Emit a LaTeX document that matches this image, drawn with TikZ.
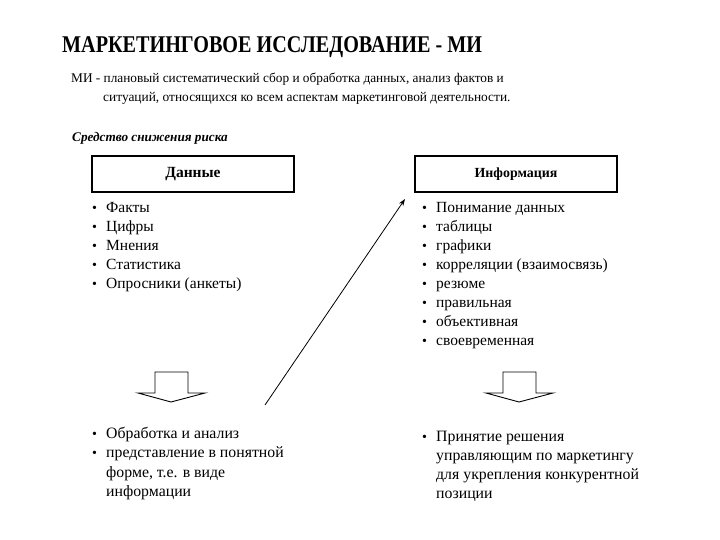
\documentclass[tikz,border=0pt]{standalone}
\usepackage{fontspec}
\usepackage{graphicx}
\setmainfont{Liberation Serif}
\usetikzlibrary{arrows.meta}
\begin{document}
\begin{tikzpicture}[x=1pt,y=-1pt,
  txt/.style={anchor=base west, inner sep=0pt, font=\fontsize{15.5}{17}\selectfont},
  btxt/.style={anchor=base west, inner sep=0pt, font=\fontsize{15.8}{17}\selectfont},
  deftxt/.style={anchor=base west, inner sep=0pt, font=\fontsize{13.3}{16}\selectfont},
  bul/.style={anchor=base west, inner sep=0pt, font=\fontsize{14}{16}\selectfont},
  labelbox/.style={draw, line width=1.2pt, minimum width=202pt, minimum height=36pt, inner sep=0pt},
  blockarrow/.style={draw, fill=white, line width=0.9pt},
  link/.style={line width=0.8pt, -{Stealth[length=7pt,width=5pt]}}
]
\useasboundingbox (0,0) rectangle (720,540);

% title and description
\node[anchor=base west, inner sep=0pt, font=\fontsize{24}{28}\selectfont\bfseries] (title) at (62,53) {\scalebox{0.84}[1]{МАРКЕТИНГОВОЕ ИССЛЕДОВАНИЕ - МИ}};
\node[deftxt] (def1) at (71,83) {МИ - плановый систематический сбор и обработка данных, анализ фактов и};
\node[deftxt, font=\fontsize{13.4}{16}\selectfont] (def2) at (103,102) {ситуаций, относящихся ко всем аспектам маркетинговой деятельности.};
\node[deftxt, font=\fontsize{13.2}{16}\selectfont\bfseries\itshape] (risk) at (72,142) {Средство снижения риска};

% boxes
\node[labelbox, font=\fontsize{15.5}{17}\selectfont\bfseries] (data) at (193,174) {Данные};
\node[labelbox, font=\fontsize{13.9}{15}\selectfont\bfseries] (info) at (516,174) {Информация};

% left list
\foreach \t [count=\i from 0] in {Факты, Цифры, Мнения, Статистика, Опросники (анкеты)} {
  \node[bul] (lb\i) at (92,212+19*\i) {•};
  \node[txt] (l\i) at (106,212+19*\i) {\t};
}
% right list
\foreach \t [count=\i from 0] in {Понимание данных, таблицы, графики, корреляции (взаимосвязь), резюме, правильная, объективная, своевременная} {
  \node[bul] (rb\i) at (422,212+19*\i) {•};
  \node[txt] (r\i) at (436,212+19*\i) {\t};
}

% block arrows
\draw[blockarrow] (155,372) -- (188,372) -- (188,393) -- (205,393) -- (171,402) -- (138,393) -- (155,393) -- cycle;
\draw[blockarrow] (503,372) -- (536,372) -- (536,393) -- (553,393) -- (519,402) -- (486,393) -- (503,393) -- cycle;

% diagonal connector
\coordinate (from) at (265,405);
\coordinate (to) at (405,199);
\draw[link] (from) -- (to);

% bottom left
\node[bul] (blb0) at (92,438) {•};
\node[btxt] (bl0) at (106,438) {Обработка и анализ};
\node[bul] (blb1) at (92,457) {•};
\node[btxt] (bl1) at (106,457) {представление в понятной};
\node[btxt] (bl2) at (106,477) {форме, т.е. в виде};
\node[btxt] (bl3) at (106,496) {информации};

% bottom right
\node[bul] (brb0) at (422,441) {•};
\node[btxt] (br0) at (436,441) {Принятие решения};
\node[btxt] (br1) at (436,460) {управляющим по маркетингу};
\node[btxt] (br2) at (436,479) {для укрепления конкурентной};
\node[btxt] (br3) at (436,498) {позиции};
\end{tikzpicture}
\end{document}
